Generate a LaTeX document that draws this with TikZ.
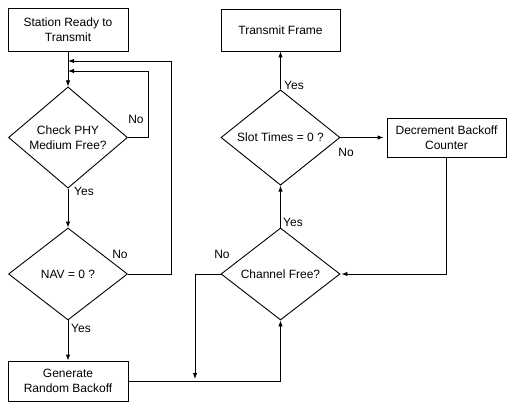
\documentclass[tikz,border=0pt]{standalone}
\usepackage{fontspec}
\setmainfont{Liberation Sans}
\usetikzlibrary{shapes.geometric,arrows.meta}
\begin{document}
\begin{tikzpicture}[x=1pt,y=-1pt,
  font=\fontsize{12}{15}\selectfont, line width=0.9pt,
  box/.style={draw, rectangle, minimum width=120pt, align=center, inner sep=0pt},
  dia/.style={draw, diamond, minimum width=119pt, minimum height=91pt, inner sep=0pt, align=center},
  arr/.style={-{Latex[length=6pt,width=4.5pt]}},
  lbl/.style={inner sep=0pt}]
\useasboundingbox[fill=white] (0,0) rectangle (518,413);
\node[box, minimum height=43pt] (start) at (68,29.5) {Station Ready to\\Transmit};
\node[dia] (phy) at (68,137.5) {Check PHY\\Medium Free?};
\node[dia, minimum height=92pt] (nav) at (68,274) {NAV = 0 ?};
\node[box, minimum height=40pt] (gen) at (68,381) {Generate\\Random Backoff};
\node[dia, minimum height=92pt] (chan) at (280.5,274) {Channel Free?};
\node[dia] (slot) at (280.5,137.5) {Slot Times = 0 ?};
\node[box, minimum height=42pt, minimum width=119pt] (tx) at (280.5,30) {Transmit Frame};
\node[box, minimum height=39pt, minimum width=119pt] (dec) at (446.5,137.5) {Decrement Backoff\\Counter};
\coordinate (m1) at (68,61);
\coordinate (m2) at (68,71);
\coordinate (m3) at (195,379);
\draw (start.south) -- (m1);
\draw[arr] (m1) -- (phy.north);
\draw[arr] (phy.east) -- ++(20,0) |- (m2);
\draw[arr] (nav.east) -- ++(43,0) |- (m1);
\draw[arr] (phy.south) -- (nav.north);
\draw[arr] (nav.south) -- (gen.north);
\draw[arr] (gen.east) -| (chan.south);
\draw[arr] (chan.west) -| (m3);
\draw[arr] (chan.north) -- (slot.south);
\draw[arr] (slot.north) -- (tx.south);
\draw[arr, shorten >=3pt] (slot.east) -- (dec.west);
\draw[arr, shorten >=1pt] (dec.south) |- (chan.east);
\node[lbl] (l1) at (136,119) {No};
\node[lbl] (l2) at (84,191) {Yes};
\node[lbl] (l3) at (120,254) {No};
\node[lbl] (l4) at (81,328) {Yes};
\node[lbl] (l5) at (294,85) {Yes};
\node[lbl] (l6) at (346,152) {No};
\node[lbl] (l7) at (293,222) {Yes};
\node[lbl] (l8) at (222,254) {No};
\end{tikzpicture}
\end{document}
